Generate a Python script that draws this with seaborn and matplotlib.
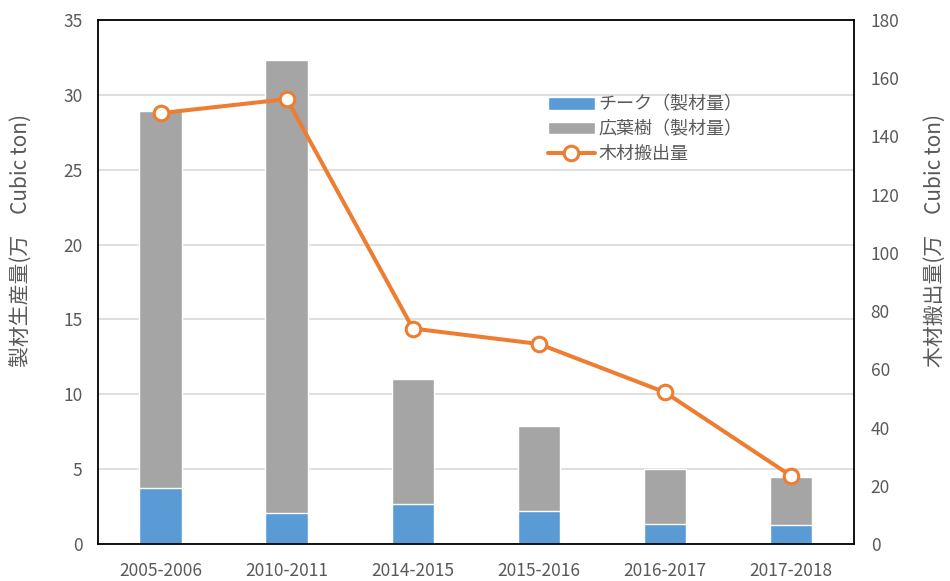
import numpy as np
import matplotlib
matplotlib.use("Agg")
import matplotlib.pyplot as plt
import seaborn as sns

# data
years = ["2005-2006", "2010-2011", "2014-2015", "2015-2016", "2016-2017", "2017-2018"]
teak = [3.75, 2.05, 2.7, 2.2, 1.35, 1.3]          # チーク(製材量), 万 Cubic ton
hardwood = [25.15, 30.25, 8.3, 5.65, 3.65, 3.2]   # 広葉樹(製材量), stacked on teak
logs = [148, 152.8, 74, 68.7, 52.1, 23.4]         # 木材搬出量, right axis

sns.set_style("white")
plt.rcParams['font.family'] = ['Noto Sans CJK JP', 'DejaVu Sans']

blue = "#5B9BD5"
gray = "#A5A5A5"
orange = "#ED7D31"
txt = "#595959"

totals = np.add(teak, hardwood)

fig = plt.figure(figsize=(9.5, 5.81), dpi=100)
ax = fig.add_axes([0.103, 0.0637, 0.796, 0.902])

sns.barplot(x=years, y=totals, color=gray, saturation=1, width=0.34, ax=ax,
            label="広葉樹（製材量）")
sns.barplot(x=years, y=teak, color=blue, saturation=1, width=0.34, ax=ax,
            label="チーク（製材量）")
ax.set_xlim(-0.5, 5.5)
ax.set_ylim(0, 35)
ax.set_yticks(range(0, 36, 5))
ax.yaxis.grid(True, color="#D9D9D9", lw=1.2)
ax.set_axisbelow(True)
ax.tick_params(axis="y", length=0, labelsize=12.5, labelcolor=txt, pad=11)
ax.tick_params(axis="x", length=0, labelsize=12.5, labelcolor=txt, pad=13)
for s in ax.spines.values():
    s.set_visible(False)
ax.set_ylabel("製材生産量(万　Cubic ton)", fontsize=15, color=txt)
ax.yaxis.set_label_coords(-0.086, 0.58)

ax2 = ax.twinx()
sns.lineplot(x=list(range(len(years))), y=logs, ax=ax2, color=orange, lw=2.9,
             marker="o", ms=10.5, mfc="white", mec=orange, mew=2.2,
             label="木材搬出量", sort=False)
ax2.set_xlim(-0.5, 5.5)
ax2.set_ylim(0, 180)
ax2.set_yticks(range(0, 181, 20))
ax2.tick_params(axis="y", length=0, labelsize=12.5, labelcolor=txt, pad=12)
for s in ax2.spines.values():
    s.set_visible(True)
    s.set_color("black")
    s.set_linewidth(1.3)
ax2.set_ylabel("木材搬出量(万　Cubic ton)", fontsize=15, color=txt)
ax2.yaxis.set_label_coords(1.092, 0.58)

h1, l1 = ax.get_legend_handles_labels()
h2, l2 = ax2.get_legend_handles_labels()
if ax.get_legend():
    ax.get_legend().remove()
if ax2.get_legend():
    ax2.get_legend().remove()
handles = [h1[1], h1[0], h2[0]]
labels = [l1[1], l1[0], l2[0]]
ax2.legend(handles, labels, loc="upper left", bbox_to_anchor=(0.583, 0.873),
           frameon=False, fontsize=13, borderpad=0, labelspacing=0.38,
           handlelength=2.6, handletextpad=0.2, labelcolor=txt)

fig.savefig("out.png", dpi=100)
